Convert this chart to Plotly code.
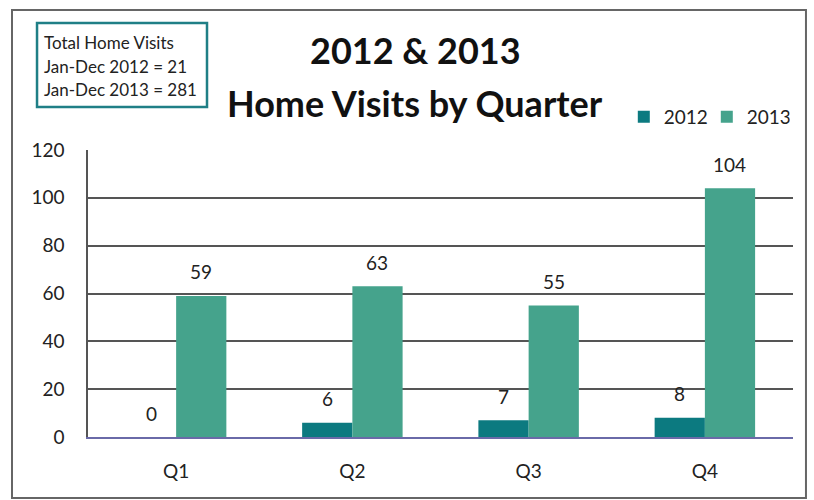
import plotly.graph_objects as go

quarters = ["Q1", "Q2", "Q3", "Q4"]
visits_2012 = [0, 6, 7, 8]
visits_2013 = [59, 63, 55, 104]
series_names = ["2012", "2013"]
colors = ["#0c7a80", "#45a38c"]
y_ticks = [0, 20, 40, 60, 80, 100, 120]

FONT = "Lato"

fig = go.Figure()
for name, vals, col in zip(series_names, [visits_2012, visits_2013], colors):
    fig.add_trace(go.Bar(x=quarters, y=vals, name=name, marker_color=col,
                         marker_line_width=0))

# data labels above bars
offsets = [-25, 25]
for vals, off in zip([visits_2012, visits_2013], offsets):
    for q, v in zip(quarters, vals):
        fig.add_annotation(x=q, y=v, xref="x", yref="y", text=str(v),
                           showarrow=False, xshift=off, yshift=24,
                           yanchor="middle",
                           font=dict(family=FONT, size=19, color="#222"))

fig.update_layout(
    width=814, height=500,
    margin=dict(l=88, r=21, t=150, b=63, autoexpand=False),
    paper_bgcolor="white", plot_bgcolor="white",
    barmode="group", bargap=0.43, bargroupgap=0,
    font=dict(family=FONT, size=17, color="#222"),
    showlegend=True,
    legend=dict(orientation="h", x=0.76, y=1.115, xanchor="left",
                yanchor="middle", font=dict(family=FONT, size=19, color="#222"),
                itemwidth=30, entrywidth=38, entrywidthmode="pixels",
                traceorder="normal", bgcolor="rgba(0,0,0,0)"),
)
fig.update_yaxes(range=[0, 120], tickvals=y_ticks, showgrid=True,
                 gridcolor="#555", gridwidth=1.5, showline=True,
                 linecolor="#555", linewidth=1.5, zeroline=False,
                 ticks="", ticklabelstandoff=18,
                 tickfont=dict(family=FONT, size=19, color="#222"))
fig.update_xaxes(showline=True, linecolor="#6a6aa8", linewidth=1.5,
                 ticks="", ticklabelstandoff=16,
                 tickfont=dict(family=FONT, size=19, color="#222"))

# titles
fig.add_annotation(x=0.464, y=1.348, xref="paper", yref="paper",
                   text="<b>2012 &amp; 2013</b>", showarrow=False,
                   yanchor="middle",
                   font=dict(family=FONT, size=36, color="#111"))
fig.add_annotation(x=0.464, y=1.164, xref="paper", yref="paper",
                   text="<b>Home Visits by Quarter</b>", showarrow=False,
                   yanchor="middle",
                   font=dict(family=FONT, size=36, color="#111"))

# info box
fig.add_shape(type="rect", xref="paper", yref="paper",
              x0=-0.0723, x1=0.1688, y0=1.1498, y1=1.4425,
              line=dict(color="#1f7f86", width=2.5), fillcolor="white")
box_lines = ["Total Home Visits", "Jan-Dec 2012 = 21", "Jan-Dec 2013 = 281"]
for i, t in enumerate(box_lines):
    ypx = 43 + i * 23.5
    fig.add_annotation(x=-0.0652, y=(437 - ypx) / 287, xref="paper", yref="paper",
                       text=t, showarrow=False, xanchor="left", yanchor="middle",
                       font=dict(family=FONT, size=17, color="#222"))

# outer chart border
fig.add_shape(type="rect", xref="paper", yref="paper",
              x0=-0.1078, x1=1.0184, y0=-0.2125, y1=1.4878,
              line=dict(color="#666", width=2), layer="below")

fig.write_html("out.html")
